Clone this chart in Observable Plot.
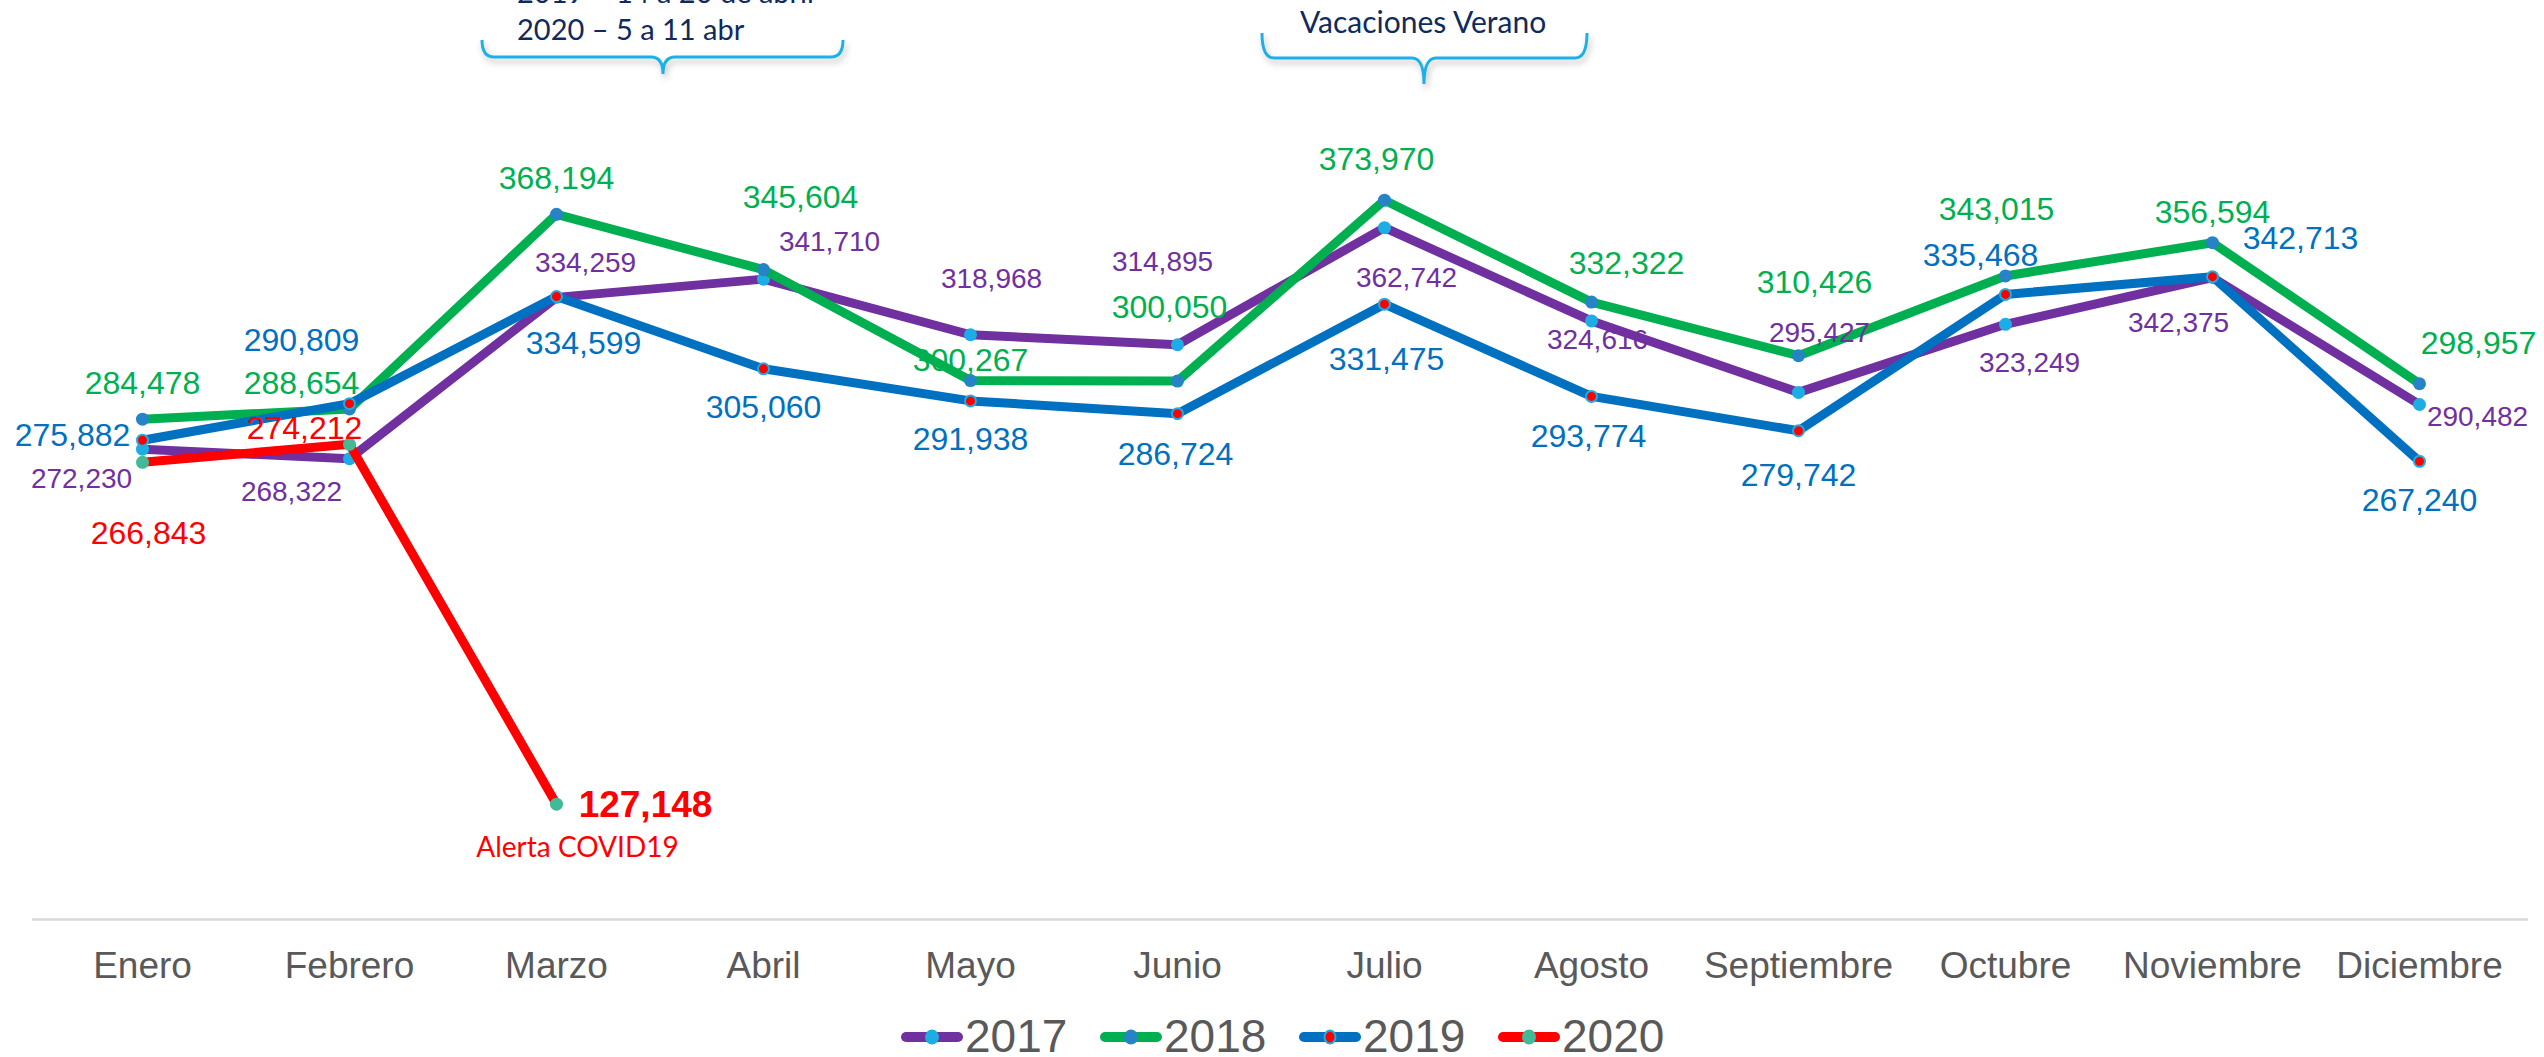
<!DOCTYPE html>
<html>
<head>
<meta charset="utf-8">
<script src="https://cdn.jsdelivr.net/npm/d3@7"></script>
<script src="https://cdn.jsdelivr.net/npm/@observablehq/plot@0.6"></script>
<style>
  html, body { margin: 0; padding: 0; background: #fff; overflow: hidden; }
  #wrap { position: relative; width: 2544px; height: 1057px; overflow: hidden; background: #fff; }
  #chart { position: absolute; left: 0; top: 0; }
  #overlay { position: absolute; left: 0; top: 0; pointer-events: none; }
  #titlebox { position: absolute; left: 122px; top: -70px; width: 272px; height: 76px; background: #fff;
              border-radius: 14px; box-shadow: 0 4px 9px rgba(0,0,0,0.28); }
</style>
</head>
<body>
<div id="wrap">
  <div id="titlebox"></div>
  <div id="chart"></div>
  <svg id="overlay" width="2544" height="1057"></svg>
</div>
<script>
// ---------------- data ----------------
const months = ["Enero","Febrero","Marzo","Abril","Mayo","Junio","Julio","Agosto","Septiembre","Octubre","Noviembre","Diciembre"];
const years = ["2017","2018","2019","2020"];
const v2017 = [272230, 268322, 334259, 341710, 318968, 314895, 362742, 324616, 295427, 323249, 342375, 290482];
const v2018 = [284478, 288654, 368194, 345604, 300267, 300050, 373970, 332322, 310426, 343015, 356594, 298957];
const v2019 = [275882, 290809, 334599, 305060, 291938, 286724, 331475, 293774, 279742, 335468, 342713, 267240];
const v2020 = [266843, 274212, 127148];
const annotCovid = "Alerta COVID19";
const annotAbril = ["2019 – 14 a 20 de abril", "2020 – 5 a 11 abr"];
const annotVerano = "Vacaciones Verano";

// ---------------- styling / label placement (pixels, not data) ----------------
const lineColor   = {"2017": "#7030A0", "2018": "#00B050", "2019": "#0070C0", "2020": "#FF0000"};
const markerColor = {"2017": "#1CADE4", "2018": "#2683C6", "2019": "#FF0000", "2020": "#42BA97"};
const markerStroke = {"2017": "none", "2018": "none", "2019": "#1CADE4", "2020": "none"};
const labelSize = {"2017": 28, "2018": 32, "2019": 32, "2020": 32};
const off2017 = [[-61,30],[-58,33],[29,-34],[66,-37],[21,-56],[-15,-83],[22,50],[6,19],[21,-59],[24,39],[-34,46],[58,13]];
const off2018 = [[0,-35],[-48,-25],[0,-36],[37,-72],[0,-20],[-8,-73],[-8,-40],[35,-38],[16,-73],[-9,-66],[0,-30],[59,-40]];
const off2019 = [[-70,-4],[-48,-63],[27,47],[0,39],[0,39],[-2,41],[2,56],[-3,40],[0,45],[-25,-39],[88,-38],[0,39]];
const off2020 = [[6,71],[-45,-16],[89,1]];

const seriesValues = {"2017": v2017, "2018": v2018, "2019": v2019, "2020": v2020};
const seriesOffsets = {"2017": off2017, "2018": off2018, "2019": off2019, "2020": off2020};
const fmt = d3.format(",");
const FONT = "'Liberation Sans', Arial, Helvetica, sans-serif";

const marks = [];
marks.push(Plot.ruleY([80000], {stroke: "#D9D9D9", strokeWidth: 2.5, insetLeft: -105, insetRight: -105}));

for (const yr of years) {
  const rows = seriesValues[yr].map((v, i) => ({month: months[i], value: v, year: yr}));
  marks.push(Plot.line(rows, {x: "month", y: "value", stroke: lineColor[yr], strokeWidth: 9,
    strokeLinecap: "round", strokeLinejoin: "round"}));
  marks.push(Plot.dot(rows, {x: "month", y: "value", r: yr === "2019" ? 5.5 : 6.5, fill: markerColor[yr],
    stroke: markerStroke[yr], strokeWidth: 2}));
}
for (const yr of years) {
  seriesValues[yr].forEach((v, i) => {
    const isCovid = yr === "2020" && i === 2;
    marks.push(Plot.text([{month: months[i], value: v}], {
      x: "month", y: "value", text: d => fmt(d.value),
      dx: seriesOffsets[yr][i][0], dy: seriesOffsets[yr][i][1],
      fill: lineColor[yr], fontSize: isCovid ? 37 : labelSize[yr],
      fontWeight: isCovid ? "bold" : "normal",
      textAnchor: "middle", lineAnchor: "middle", fontFamily: FONT
    }));
  });
}
// COVID note under the March 2020 point
marks.push(Plot.text([{month: months[2], value: v2020[2]}], {
  x: "month", y: "value", text: () => annotCovid, dx: 21, dy: 53,
  fill: "#FF0000", fontSize: 28, fontFamily: "Lato, 'Open Sans', sans-serif",
  textAnchor: "middle", lineAnchor: "bottom"
}));

const chart = Plot.plot({
  width: 2544, height: 1057,
  marginTop: 136, marginBottom: 138, marginLeft: 137, marginRight: 121,
  x: {type: "point", domain: months, padding: 0, label: null, tickSize: 0, tickPadding: 32},
  y: {domain: [80000, 400000], axis: null},
  style: {fontFamily: FONT, fontSize: "37px", color: "#595959", background: "white", overflow: "visible"},
  marks
});
document.getElementById("chart").appendChild(chart);

// ---------------- overlay: annotations + legend ----------------
const ov = d3.select("#overlay");
const defs = ov.append("defs");
const f = defs.append("filter").attr("id", "sh").attr("x", "-10%").attr("y", "-50%").attr("width", "120%").attr("height", "250%");
f.append("feDropShadow").attr("dx", 2).attr("dy", 4).attr("stdDeviation", 3).attr("flood-color", "#000").attr("flood-opacity", 0.25);

const braceColor = "#1FB0E6";
ov.append("path").attr("d", "M482,40 Q482,57 494,57 L651,57 Q663,57 663,74 Q663,57 675,57 L831,57 Q843,57 843,40")
  .attr("fill", "none").attr("stroke", braceColor).attr("stroke-width", 3).attr("filter", "url(#sh)");
ov.append("path").attr("d", "M1262,33 Q1262,58 1274,58 L1412,58 Q1424,58 1424,84 Q1424,58 1436,58 L1575,58 Q1587,58 1587,33")
  .attr("fill", "none").attr("stroke", braceColor).attr("stroke-width", 3).attr("filter", "url(#sh)");

const navy = "#0E2A5E";
ov.append("text").attr("x", 517).attr("y", 3).text(annotAbril[0])
  .attr("fill", navy).attr("font-family", "Lato, 'Open Sans', sans-serif").attr("font-size", 29);
ov.append("text").attr("x", 517).attr("y", 40).text(annotAbril[1])
  .attr("fill", navy).attr("font-family", "Lato, 'Open Sans', sans-serif").attr("font-size", 29);
ov.append("text").attr("x", 1300).attr("y", 33).text(annotVerano)
  .attr("fill", navy).attr("font-family", "Lato, 'Open Sans', sans-serif").attr("font-size", 30);

// legend
const legX0 = 901, legStep = 199, legY = 1037;
years.forEach((yr, k) => {
  const x = legX0 + k * legStep;
  ov.append("line").attr("x1", x + 5).attr("x2", x + 57).attr("y1", legY).attr("y2", legY)
    .attr("stroke", lineColor[yr]).attr("stroke-width", 10).attr("stroke-linecap", "round");
  ov.append("ellipse").attr("cx", x + 31).attr("cy", legY).attr("rx", yr === "2019" ? 5.5 : 7).attr("ry", yr === "2019" ? 6.5 : 7.5)
    .attr("fill", markerColor[yr]).attr("stroke", markerStroke[yr]).attr("stroke-width", 2);
  ov.append("text").attr("x", x + 64).attr("y", 1052).text(yr)
    .attr("fill", "#595959").attr("font-family", FONT).attr("font-size", 46);
});
</script>
</body>
</html>
